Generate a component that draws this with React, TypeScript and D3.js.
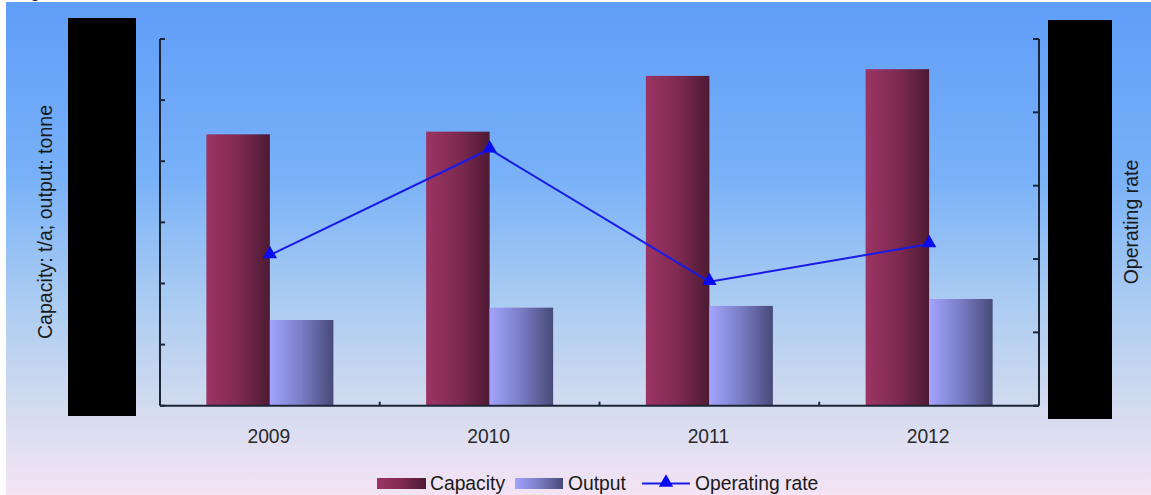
import React from "react";
import * as d3 from "d3";

const categories = ["2009", "2010", "2011", "2012"];
const capacity = [2220, 2242, 2698, 2753];
const output = [701, 802, 816, 873];
const operatingRate = [0.3116, 0.3549, 0.3007, 0.3161];
const leftTicks = [0, 500, 1000, 1500, 2000, 2500, 3000];
const rightTicks = [0.25, 0.28, 0.31, 0.34, 0.37, 0.4];
const legendLabels = ["Capacity", "Output", "Operating rate"];

const W = 1151;
const H = 495;
const plot = { left: 160, right: 1039, top: 39, bottom: 405.7 };
const FONT = "'Liberation Sans', Arial, sans-serif";

export default function App() {
  const x = d3
    .scaleBand<string>()
    .domain(categories)
    .range([plot.left, plot.right])
    .paddingInner(0)
    .paddingOuter(0);
  const pairW = x.bandwidth() * 0.578;
  const barW = pairW / 2;
  const yL = d3.scaleLinear().domain([0, 3000]).range([plot.bottom, plot.top]);
  const yR = d3.scaleLinear().domain([0.25, 0.4]).range([plot.bottom, plot.top]);
  const cx = (c: string) => (x(c) as number) + x.bandwidth() / 2;

  const line = d3
    .line<number>()
    .x((_, i) => cx(categories[i]))
    .y((d) => yR(d));
  const tri = d3.symbol().type(d3.symbolTriangle).size(90)();

  return (
    <svg
      width={W}
      height={H}
      style={{ position: "absolute", left: 0, top: 0, display: "block" }}
      fontFamily={FONT}
    >
      <defs>
        <linearGradient id="bg" x1="0" y1="0" x2="0" y2="1">
          <stop offset="0" stopColor="#609df8" />
          <stop offset="0.35" stopColor="#78b1f8" />
          <stop offset="0.6" stopColor="#a9cbf2" />
          <stop offset="0.82" stopColor="#d2dbef" />
          <stop offset="1" stopColor="#f4e4f5" />
        </linearGradient>
        <linearGradient id="capG" x1="0" y1="0" x2="1" y2="0">
          <stop offset="0" stopColor="#9c3464" />
          <stop offset="0.5" stopColor="#7f2a52" />
          <stop offset="1" stopColor="#4d1a33" />
        </linearGradient>
        <linearGradient id="outG" x1="0" y1="0" x2="1" y2="0">
          <stop offset="0" stopColor="#a2a4ff" />
          <stop offset="0.5" stopColor="#7a7cc4" />
          <stop offset="1" stopColor="#474a78" />
        </linearGradient>
      </defs>
      <rect x={0} y={0} width={W} height={H} fill="#ffffff" />
      <rect x={6} y={2} width={W - 6} height={H - 2} fill="url(#bg)" />
      <text x={15} y={-3} fontSize={18} fill="#222">Figure</text>

      {/* bars */}
      {categories.map((c, i) => {
        const x0 = cx(c) - pairW / 2;
        return (
          <g key={c}>
            <rect
              x={x0}
              y={yL(capacity[i])}
              width={barW}
              height={plot.bottom - yL(capacity[i])}
              fill="url(#capG)"
            />
            <rect
              x={x0 + barW}
              y={yL(output[i])}
              width={barW}
              height={plot.bottom - yL(output[i])}
              fill="url(#outG)"
            />
          </g>
        );
      })}

      {/* axes */}
      <g stroke="#1c2535" strokeWidth={2} fill="none">
        <line x1={plot.left} x2={plot.left} y1={plot.top} y2={plot.bottom} />
        <line x1={plot.right} x2={plot.right} y1={plot.top} y2={plot.bottom} />
        <line x1={plot.left} x2={plot.right} y1={plot.bottom} y2={plot.bottom} />
        {leftTicks.map((t) => (
          <line key={"l" + t} x1={plot.left} x2={plot.left + 5} y1={yL(t)} y2={yL(t)} />
        ))}
        {rightTicks.map((t) => (
          <line key={"r" + t} x1={plot.right} x2={plot.right - 6} y1={yR(t)} y2={yR(t)} />
        ))}
        {categories.slice(1).map((c) => (
          <line
            key={"x" + c}
            x1={x(c) as number}
            x2={x(c) as number}
            y1={plot.bottom}
            y2={plot.bottom - 4}
          />
        ))}
      </g>

      {/* operating rate line */}
      <path d={line(operatingRate) || ""} fill="none" stroke="#1a1ae6" strokeWidth={2} />
      {operatingRate.map((v, i) => (
        <path
          key={i}
          d={tri || ""}
          transform={`translate(${cx(categories[i])},${yR(v) - 1})`}
          fill="#0a0af0"
        />
      ))}

      {/* category labels */}
      {categories.map((c) => (
        <text
          key={"t" + c}
          x={cx(c) - 1}
          y={443}
          textAnchor="middle"
          fontSize={19.3}
          fill="#2a2a2a"
        >
          {c}
        </text>
      ))}

      {/* axis titles */}
      <text
        transform="translate(52,222) rotate(-90)"
        textAnchor="middle"
        fontSize={19.6}
        fill="#1a1a1a"
      >
        Capacity: t/a; output: tonne
      </text>
      <text
        transform="translate(1138,222) rotate(-90)"
        textAnchor="middle"
        fontSize={19.5}
        fill="#1a1a1a"
      >
        Operating rate
      </text>

      {/* redaction boxes */}
      <rect x={68} y={18} width={68} height={398} fill="#000" />
      <rect x={1048} y={20} width={64} height={399} fill="#000" />

      {/* legend */}
      <g fontSize={19.3} fill="#1a1a1a">
        <rect x={377} y={478} width={49} height={11} fill="url(#capG)" />
        <text x={430} y={490}>{legendLabels[0]}</text>
        <rect x={515} y={478} width={48} height={11} fill="url(#outG)" />
        <text x={568} y={490}>{legendLabels[1]}</text>
        <line x1={642} x2={690} y1={483.5} y2={483.5} stroke="#1a1ae6" strokeWidth={2} />
        <path d={tri || ""} transform="translate(666,482.5)" fill="#0a0af0" />
        <text x={695} y={490}>{legendLabels[2]}</text>
      </g>
    </svg>
  );
}
